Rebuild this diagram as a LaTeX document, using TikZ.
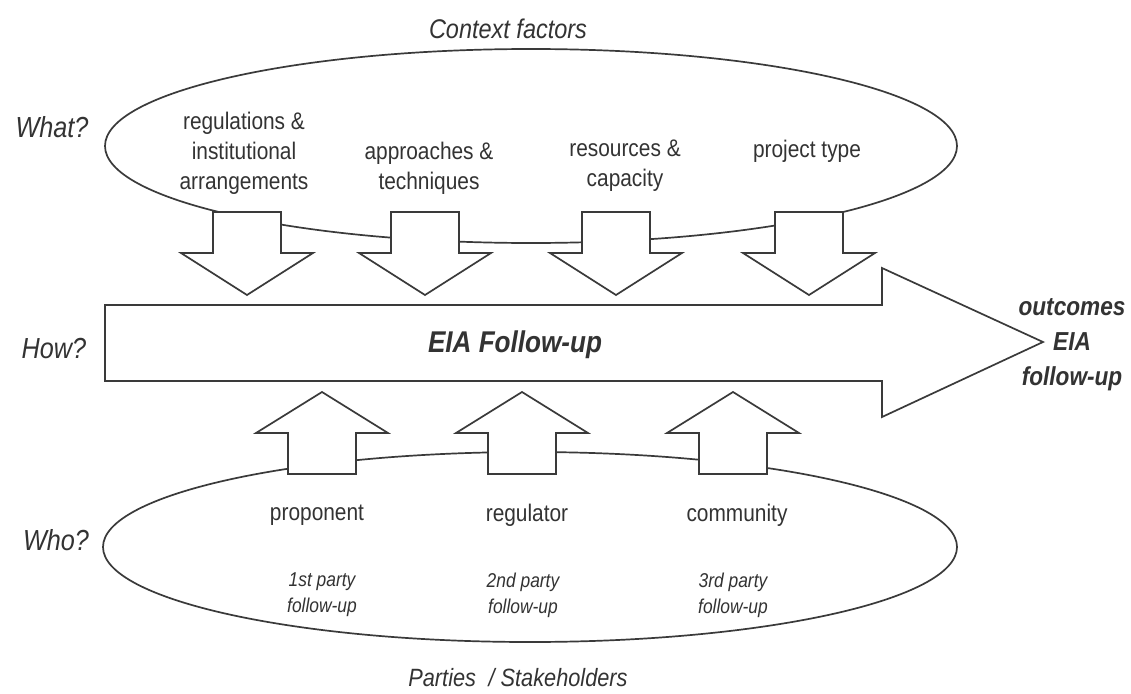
\documentclass[tikz,border=0pt]{standalone}
\usepackage{fontspec}
\setmainfont{Liberation Sans}[FakeStretch=0.87]
\definecolor{ink}{HTML}{333333}
\definecolor{linec}{HTML}{3A3A3A}
\begin{document}
\begin{tikzpicture}[x=1pt,y=-1pt,
  outline/.style={draw=linec,line width=1.7pt,line join=miter},
  blockarrow/.style={outline,fill=white},
  factor/.style={text=ink,align=center,font=\fontsize{24}{30}\selectfont,inner sep=0pt},
  party/.style={text=ink,align=center,font=\fontsize{20}{26}\selectfont\itshape,inner sep=0pt},
  side/.style={text=ink,font=\fontsize{29}{30}\selectfont\itshape,inner sep=0pt},
  heading/.style={text=ink,font=\fontsize{25}{26}\selectfont\itshape,inner sep=0pt}]
\useasboundingbox[fill=white] (0,0) rectangle (1131,693);

% ellipses
\draw[outline] (531,146) ellipse [x radius=426, y radius=97];
\draw[outline] (530,547) ellipse [x radius=427, y radius=95];

% main arrow
\draw[blockarrow] (105,305) -- (882,305) -- (882,268) -- (1043,342) -- (882,417) -- (882,381) -- (105,381) -- cycle;

% down arrows
\foreach \c in {247,425,616,809}{
  \draw[blockarrow] (\c-34,212) -- (\c+34,212) -- (\c+34,253) -- (\c+66,253) -- (\c,295) -- (\c-66,253) -- (\c-34,253) -- cycle;
}
% up arrows
\foreach \c in {322,522,733}{
  \draw[blockarrow] (\c-34,474) -- (\c+34,474) -- (\c+34,433) -- (\c+66,433) -- (\c,392) -- (\c-66,433) -- (\c-34,433) -- cycle;
}

% texts
\node[heading,font=\fontsize{27}{28}\selectfont\itshape] (ctx) at (508,29) {Context factors};
\node[heading] (par) at (518,678) {Parties\enspace/ Stakeholders};
\node[side] (what) at (52,127) {What?};
\node[side] (how) at (54,349) {How?};
\node[side] (who) at (56,540) {Who?};

\node[factor] (f1) at (244,153) {regulations \&\\institutional\\arrangements};
\node[factor] (f2) at (429,168) {approaches \&\\techniques};
\node[factor] (f3) at (625,166) {resources \&\\capacity};
\node[factor] (f4) at (807,151) {project type};

\node[text=ink,font=\fontsize{30}{30}\selectfont\bfseries\itshape,inner sep=0pt] (eia) at (515,345) {EIA Follow-up};
\node[text=ink,align=center,font=\fontsize{26}{35}\selectfont\bfseries\itshape,inner sep=0pt] (out) at (1072,345) {outcomes\\EIA\\follow-up};

\node[factor] (p1) at (317,515) {proponent};
\node[factor] (p2) at (527,515) {regulator};
\node[factor] (p3) at (737,515) {community};

\node[party] (s1) at (322,595) {1st party\\follow-up};
\node[party] (s2) at (523,595) {2nd party\\follow-up};
\node[party] (s3) at (733,595) {3rd party\\follow-up};
\end{tikzpicture}
\end{document}
